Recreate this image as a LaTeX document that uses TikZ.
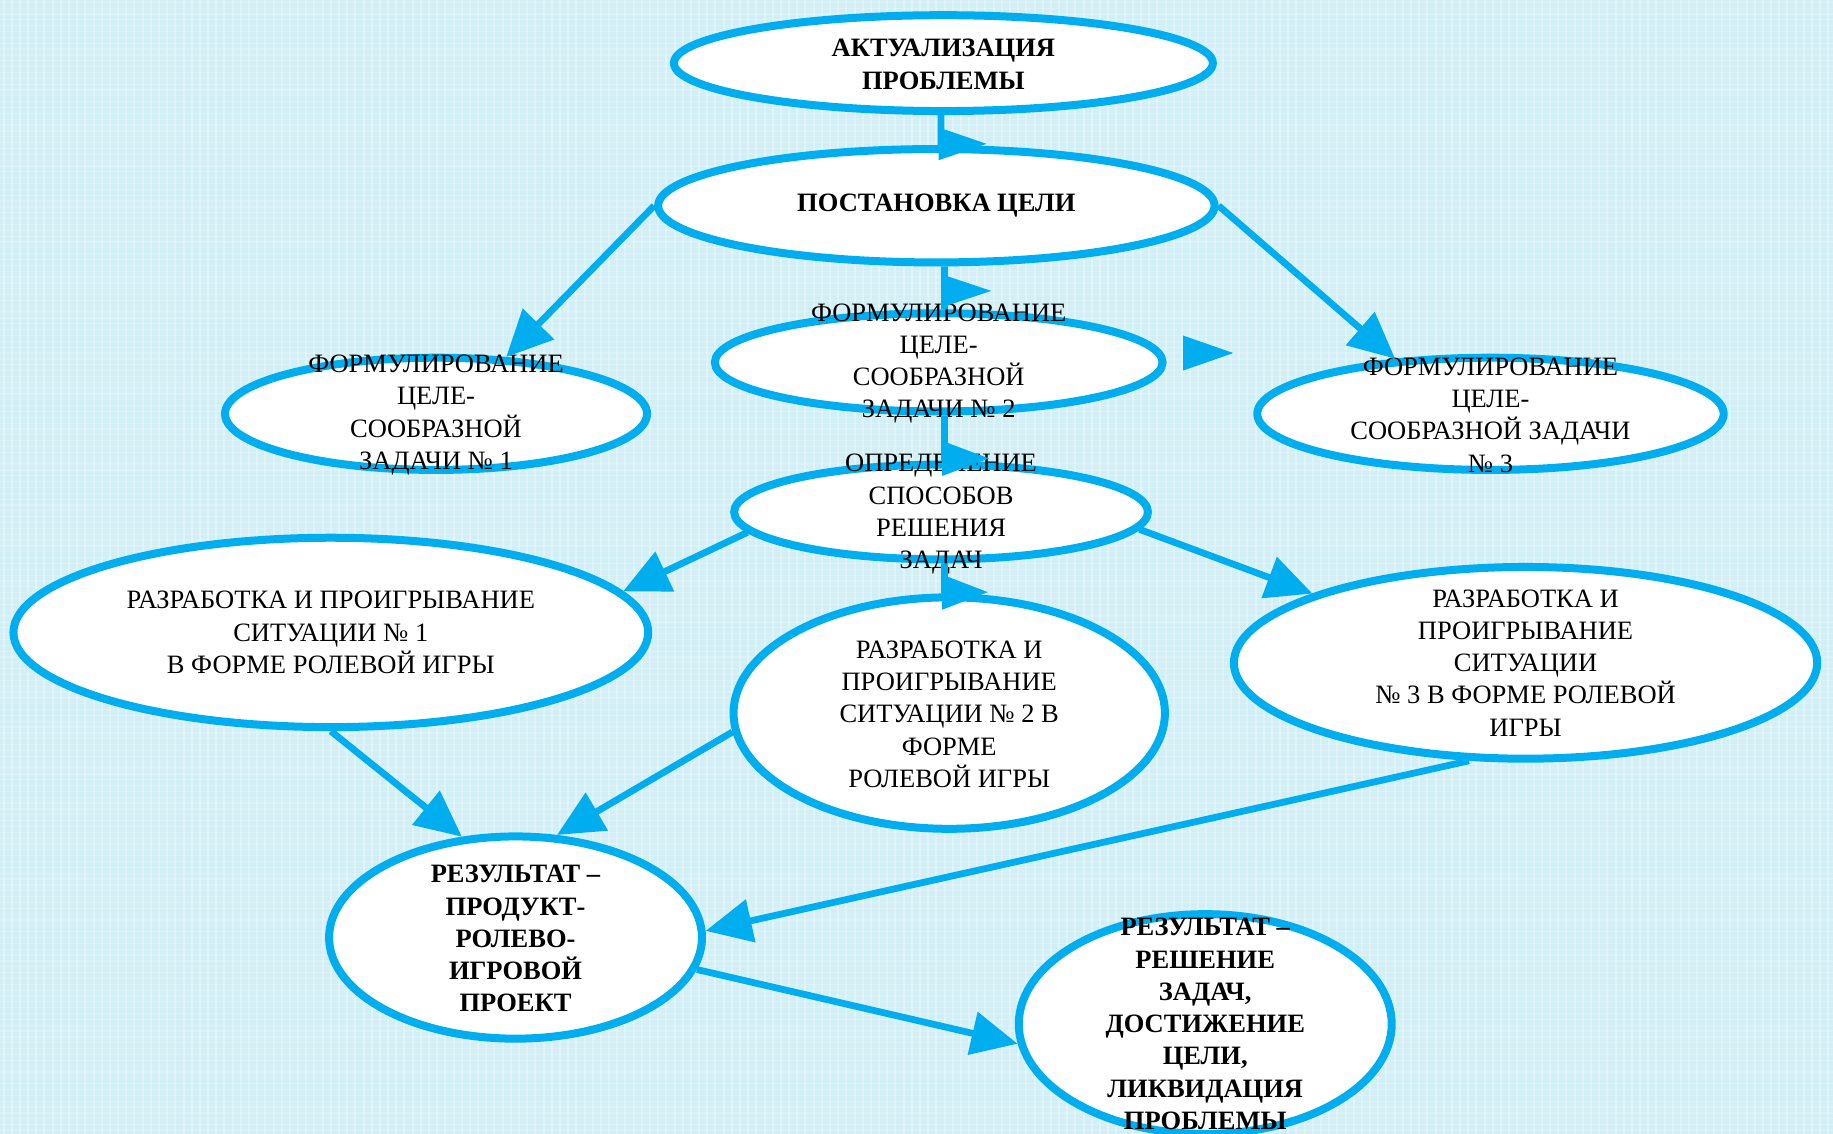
\documentclass[tikz,border=0pt]{standalone}
\usepackage{fontspec}
\setmainfont{Liberation Serif}
\usetikzlibrary{shapes.geometric,arrows.meta,calc}
\newcommand\pxu{0.4676pt}
\definecolor{bluec}{RGB}{0,174,239}
\definecolor{bgc}{RGB}{211,239,246}
\begin{document}
\begin{tikzpicture}[x=0.4676pt,y=-0.4676pt,
  ell/.style={ellipse, draw=bluec, line width=3.2pt, fill=white, inner sep=0pt},
  txt/.style={align=center, inner sep=0pt, font=\fontsize{10.6}{12.9}\selectfont},
  btxt/.style={align=center, inner sep=0pt, font=\fontsize{10.6}{12.9}\selectfont\bfseries},
  conn/.style={draw=bluec, line width=2.7pt},
  arr/.style={conn, -{Triangle[length=18.5pt, width=17pt]}},
  tri/.style={fill=bluec}]
\useasboundingbox (0,0) rectangle (1568,970);
% background
\fill[bgc] (0,0) rectangle (1568,970);
\foreach \i in {3,10,...,1568} \draw[white, opacity=0.28, line width=0.8pt] (\i,0) -- (\i,970);
\foreach \j in {2,7,...,970} \draw[white, opacity=0.18, line width=0.5pt] (0,\j) -- (1568,\j);

% ellipses
\node[ell, minimum width=461*\pxu, minimum height=82*\pxu] (e1) at (807,54) {};
\node[ell, minimum width=476*\pxu, minimum height=97*\pxu] (e2) at (801,176) {};
\node[ell, minimum width=361*\pxu, minimum height=96*\pxu] (e3) at (373,354) {};
\node[ell, minimum width=383*\pxu, minimum height=84*\pxu] (e4) at (803,310) {};
\node[ell, minimum width=399*\pxu, minimum height=96*\pxu] (e5) at (1275,354) {};
\node[ell, minimum width=354*\pxu, minimum height=81*\pxu] (e6) at (805,438) {};
\node[ell, minimum width=543*\pxu, minimum height=162*\pxu] (e7) at (283,541) {};
\node[ell, minimum width=369*\pxu, minimum height=198*\pxu] (e8) at (812,610) {};
\node[ell, minimum width=499*\pxu, minimum height=164*\pxu] (e9) at (1305,567) {};
\node[ell, minimum width=319*\pxu, minimum height=173*\pxu] (e10) at (441,802) {};
\node[ell, minimum width=319*\pxu, minimum height=188*\pxu] (e11) at (1031,876) {};

% texts
\node[btxt] (t1) at ($(e1)+(0,1)$) {АКТУАЛИЗАЦИЯ\\ПРОБЛЕМЫ};
\node[btxt] (t2) at (e2) {ПОСТАНОВКА ЦЕЛИ};
\node[txt] (t3) at ($(e3)+(0,1)$) {ФОРМУЛИРОВАНИЕ\\ЦЕЛЕ-\\СООБРАЗНОЙ\\ЗАДАЧИ № 1};
\node[txt] (t4) at ($(e4)+(0,1)$) {ФОРМУЛИРОВАНИЕ\\ЦЕЛЕ-\\СООБРАЗНОЙ\\ЗАДАЧИ № 2};
\node[txt] (t5) at ($(e5)+(0,1)$) {ФОРМУЛИРОВАНИЕ\\ЦЕЛЕ-\\СООБРАЗНОЙ ЗАДАЧИ\\№ 3};
\node[txt] (t6) at ($(e6)+(0,2)$) {ОПРЕДЕЛЕНИЕ\\СПОСОБОВ\\РЕШЕНИЯ\\ЗАДАЧ};
\node[txt] (t7) at (e7) {РАЗРАБОТКА И ПРОИГРЫВАНИЕ\\СИТУАЦИИ № 1\\В ФОРМЕ РОЛЕВОЙ ИГРЫ};
\node[txt] (t8) at ($(e8)+(0,1)$) {РАЗРАБОТКА И\\ПРОИГРЫВАНИЕ\\СИТУАЦИИ № 2 В\\ФОРМЕ\\РОЛЕВОЙ ИГРЫ};
\node[txt] (t9) at (e9) {РАЗРАБОТКА И\\ПРОИГРЫВАНИЕ\\СИТУАЦИИ\\№ 3 В ФОРМЕ РОЛЕВОЙ\\ИГРЫ};
\node[btxt] (t10) at ($(e10)+(0,1)$) {РЕЗУЛЬТАТ –\\ПРОДУКТ-\\РОЛЕВО-\\ИГРОВОЙ\\ПРОЕКТ};
\node[btxt] (t11) at (e11) {РЕЗУЛЬТАТ –\\РЕШЕНИЕ\\ЗАДАЧ,\\ДОСТИЖЕНИЕ\\ЦЕЛИ,\\ЛИКВИДАЦИЯ\\ПРОБЛЕМЫ};

% vertical connectors with side triangles
\draw[conn] ([xshift=-0.94pt]e1.south) -- coordinate[pos=0.96] (m1) ([xshift=1.87pt]e2.north);
\fill[tri] (m1) ++(-2,-14) -- ++(0,28) -- ++(41,-14) -- cycle;
\draw[conn] ([xshift=3.27pt]e2.south) -- coordinate[pos=0.57] (m2) ([xshift=2.34pt]e4.north);
\fill[tri] (m2) ++(-2,-14) -- ++(0,28) -- ++(42,-14) -- cycle;
\draw[conn] ([xshift=2.34pt]e4.south) -- coordinate[pos=0.95] (m3) ([xshift=1.4pt]e6.north);
\fill[tri] (m3) ++(-2,-15) -- ++(0,30) -- ++(40,-15) -- cycle;
\draw[conn] ([xshift=1.4pt]e6.south) -- coordinate[pos=0.96] (m4) ([xshift=-1.87pt]e8.north);
\fill[tri] (m4) ++(-2,-15) -- ++(0,30) -- ++(39,-15) -- cycle;
% lone triangle
\coordinate (lone) at (1012,302);
\fill[tri] (lone) ++(0,-15) -- ++(0,30) -- ++(43,-15) -- cycle;

% diagonal arrows
\draw[arr] (e2.west) -- (e3.39);
\draw[arr] (e2.east) -- (e5.150);
\draw[arr] (e6.186) -- (e7.8);
\draw[arr] (e6.355) -- (e9.162);
\draw[arr] (e7.south) -- (e10.118);
\draw[arr] (e8.185) -- (e10.68);
\draw[arr] (e9.240) -- (e10.2);
\draw[arr] (e10.350) -- (e11.186);
\end{tikzpicture}
\end{document}
